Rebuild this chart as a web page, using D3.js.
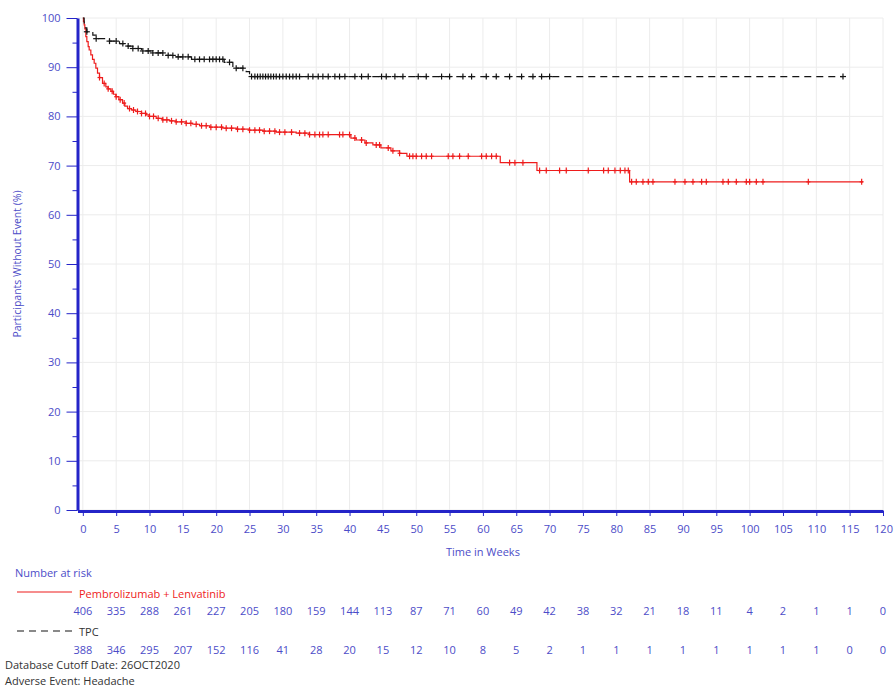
<!DOCTYPE html>
<html>
<head>
<meta charset="utf-8">
<script src="https://cdn.jsdelivr.net/npm/d3@7/dist/d3.min.js"></script>
<style>
  html, body { margin: 0; padding: 0; background: #fff; }
  svg { display: block; font-family: "Open Sans", "DejaVu Sans", sans-serif; }
</style>
</head>
<body>
<svg id="chart" width="895" height="691"></svg>
<script>
// Kaplan-Meier steps: [week, % without event]; last entry closes the curve at last follow-up
const pembroSteps = [
  [0,100],[0.1,99.3],[0.2,98.6],[0.3,97.8],[0.45,96.2],[0.6,95.2],[0.8,94.2],[0.95,93.5],
  [1.2,92.5],[1.45,91.6],[1.7,90.8],[1.95,89.8],[2.2,88.8],[2.5,87.9],[2.95,86.7],[3.45,86.0],
  [3.8,85.6],[4.2,85.1],[4.6,84.5],[4.95,84.0],[5.4,83.4],[5.95,82.7],[6.3,82.1],[6.7,81.6],
  [7.3,81.3],[7.95,81.0],[8.8,80.6],[9.5,80.3],[9.95,80.0],[11,79.6],[11.95,79.3],[13,79.1],
  [13.95,78.9],[15.5,78.6],[16.5,78.4],[17.5,78.1],[19,77.8],[21,77.6],[23,77.4],[25,77.2],
  [27,77.0],[29,76.8],[32,76.6],[34,76.3],[40.2,75.6],[41,75.2],[42.3,74.6],[43.5,74.2],
  [44.7,73.6],[46.2,73.0],[47.5,72.5],[48.6,71.9],[62.6,70.6],[68.1,69.0],[82,66.7],[117,66.7]
];
const tpcSteps = [
  [0,100],[0.2,99.0],[0.4,98.0],[0.6,97.2],[1.5,96.5],[2,95.8],[4,95.3],[5.5,94.8],[6.5,94.3],
  [7.5,93.8],[8.8,93.3],[10.5,92.9],[12.5,92.4],[14,92.1],[16.3,91.6],[21.2,91.0],[22.5,89.8],
  [24.5,89.1],[25,88.1],[114,88.1]
];

// Censored observations (weeks)
const pembroCensored = [
  2.5,3.2,3.8,4.4,5.0,5.6,6.2,7.0,7.6,8.2,8.8,9.4,10.0,10.6,11.3,12.0,12.6,13.3,14.0,14.8,
  15.5,16.2,17.0,17.8,18.5,19.2,20.0,20.8,21.5,22.3,23.2,24.0,25.0,25.8,26.5,27.2,28.0,28.8,
  29.5,30.3,31.3,32.5,33.3,34.0,34.8,35.5,36.0,36.8,38.5,39.0,40.0,40.8,41.8,42.5,44.0,44.5,
  45.8,46.5,47.5,49.0,49.5,50.0,50.8,51.5,52.3,54.8,55.5,56.5,57.8,59.8,60.5,61.3,62.0,64.0,
  64.8,66.0,68.5,69.5,71.5,72.5,75.8,78.1,78.8,79.8,80.6,81.3,81.8,82.3,83.0,84.0,84.8,85.5,
  88.8,90.3,91.5,92.8,93.5,96.0,96.8,98.0,99.5,100.0,101.0,102.0,108.8,116.8
];
const tpcCensored = [
  0.6,2.0,4.0,5.0,6.0,6.8,7.5,8.3,9.0,9.8,10.5,11.3,12.0,12.8,13.5,14.3,15.0,15.8,16.8,17.5,
  18.2,19.0,19.5,20.0,20.5,21.0,22.0,23.0,24.0,25.3,25.8,26.2,26.6,27.0,27.4,27.8,28.2,28.6,
  29.0,29.5,30.0,30.5,31.0,31.5,32.0,32.5,33.8,34.5,35.3,36.0,36.8,37.8,38.5,39.3,40.8,41.8,
  42.8,44.8,45.5,46.8,48.0,50.3,51.5,53.8,55.0,57.0,58.3,60.5,62.0,64.0,65.8,67.5,68.8,70.0,114
];

// Axis ticks
const xTicks = [0,5,10,15,20,25,30,35,40,45,50,55,60,65,70,75,80,85,90,95,100,105,110,115,120];
const yTicks = [0,10,20,30,40,50,60,70,80,90,100];
const yMinorTicks = [5,15,25,35,45,55,65,75,85,95];

// Number at risk, one per x tick
const pembroAtRisk = [406,335,288,261,227,205,180,159,144,113,87,71,60,49,42,38,32,21,18,11,4,2,1,1,0];
const tpcAtRisk = [388,346,295,207,152,116,41,28,20,15,12,10,8,5,2,1,1,1,1,1,1,1,1,0,0];

const seriesNames = ["Pembrolizumab + Lenvatinib", "TPC"];

const BLUE = "#2424c8";
const LABEL = "#4c4cc8";
const RED = "#ee1c1c";
const BLACK = "#151515";

const svg = d3.select("#chart");

const x = d3.scaleLinear().domain([-0.8, 120]).range([77.5, 883]);
const y = d3.scaleLinear().domain([0, 100]).range([510, 18]);

// grid
const grid = svg.append("g");
grid.selectAll("line.v").data(xTicks).join("line")
  .attr("x1", d => x(d)).attr("x2", d => x(d))
  .attr("y1", y(100)).attr("y2", y(0))
  .attr("stroke", "#ececec").attr("stroke-width", 1);
grid.selectAll("line.h").data(yTicks).join("line")
  .attr("x1", x(-0.8)).attr("x2", x(120))
  .attr("y1", d => y(d)).attr("y2", d => y(d))
  .attr("stroke", "#ececec").attr("stroke-width", 1);

// curves
const line = d3.line().x(d => x(d[0])).y(d => y(d[1])).curve(d3.curveStepAfter);
svg.append("path").datum(pembroSteps).attr("d", line)
  .attr("fill", "none").attr("stroke", RED).attr("stroke-width", 1.2);
svg.append("path").datum(tpcSteps).attr("d", line)
  .attr("fill", "none").attr("stroke", BLACK).attr("stroke-width", 1.2)
  .attr("stroke-dasharray", "7,5");

// censor marks sit on the curve value in effect at that time
const bis = d3.bisector(d => d[0]).right;
function valueAt(steps, t) {
  const i = Math.max(0, bis(steps, t) - 1);
  return steps[i][1];
}
function drawCensors(times, steps, color, half) {
  const g = svg.append("g").attr("stroke", color).attr("stroke-width", 1.2);
  times.forEach(t => {
    const cx = x(t), cy = y(valueAt(steps, t));
    g.append("line").attr("x1", cx).attr("x2", cx).attr("y1", cy - 3).attr("y2", cy + 3);
    g.append("line").attr("x1", cx - half).attr("x2", cx + half).attr("y1", cy).attr("y2", cy);
  });
}
drawCensors(pembroCensored, pembroSteps, RED, 2);
drawCensors(tpcCensored, tpcSteps, BLACK, 3);

// x axis
const xAxis = svg.append("g").attr("transform", `translate(0,${y(0) + 1})`)
  .call(d3.axisBottom(x).tickValues(xTicks).tickSize(5).tickSizeOuter(0).tickPadding(9));
xAxis.select(".domain").attr("stroke", BLUE).attr("stroke-width", 3);
xAxis.selectAll(".tick line").attr("stroke", BLUE);
xAxis.selectAll(".tick text").attr("fill", LABEL).attr("font-size", 11)
  .attr("font-family", "Open Sans, sans-serif");

// y axis
const yAxis = svg.append("g").attr("transform", `translate(${x(-0.8)},0)`)
  .call(d3.axisLeft(y).tickValues(yTicks).tickSize(11).tickSizeOuter(0).tickPadding(6));
yAxis.select(".domain").attr("stroke", BLUE).attr("stroke-width", 3);
yAxis.selectAll(".tick line").attr("stroke", BLUE);
yAxis.selectAll(".tick text").attr("fill", LABEL).attr("font-size", 11)
  .attr("font-family", "Open Sans, sans-serif");
const yMinor = svg.append("g").attr("transform", `translate(${x(-0.8)},0)`)
  .call(d3.axisLeft(y).tickValues(yMinorTicks).tickSize(5).tickFormat(""));
yMinor.select(".domain").remove();
yMinor.selectAll(".tick line").attr("stroke", BLUE);

// axis titles
svg.append("text").attr("x", x(60)).attr("y", 556).attr("text-anchor", "middle")
  .attr("fill", LABEL).attr("font-size", 11).text("Time in Weeks");
svg.append("text").attr("transform", `translate(21,${y(50)}) rotate(-90)`)
  .attr("text-anchor", "middle").attr("fill", LABEL).attr("font-size", 10.5)
  .text("Participants Without Event (%)");

// number at risk table
svg.append("text").attr("x", 15).attr("y", 577).attr("fill", LABEL).attr("font-size", 11)
  .text("Number at risk");
svg.append("line").attr("x1", 17).attr("x2", 72).attr("y1", 592).attr("y2", 592)
  .attr("stroke", RED).attr("stroke-width", 1.2);
svg.append("text").attr("x", 79).attr("y", 598).attr("fill", RED).attr("font-size", 11)
  .text(seriesNames[0]);
svg.append("line").attr("x1", 17).attr("x2", 72).attr("y1", 631).attr("y2", 631)
  .attr("stroke", BLACK).attr("stroke-width", 1.2).attr("stroke-dasharray", "7,5");
svg.append("text").attr("x", 79).attr("y", 636).attr("fill", "#333").attr("font-size", 11)
  .text(seriesNames[1]);

svg.append("g").selectAll("text").data(pembroAtRisk).join("text")
  .attr("x", (d, i) => x(xTicks[i])).attr("y", 615).attr("text-anchor", "middle")
  .attr("fill", LABEL).attr("font-size", 11).text(d => d);
svg.append("g").selectAll("text").data(tpcAtRisk).join("text")
  .attr("x", (d, i) => x(xTicks[i])).attr("y", 654).attr("text-anchor", "middle")
  .attr("fill", LABEL).attr("font-size", 11).text(d => d);

// footnotes
svg.append("text").attr("x", 5).attr("y", 669).attr("fill", "#333").attr("font-size", 11)
  .text("Database Cutoff Date: 26OCT2020");
svg.append("text").attr("x", 5).attr("y", 685).attr("fill", "#333").attr("font-size", 11)
  .text("Adverse Event: Headache");
</script>
</body>
</html>
